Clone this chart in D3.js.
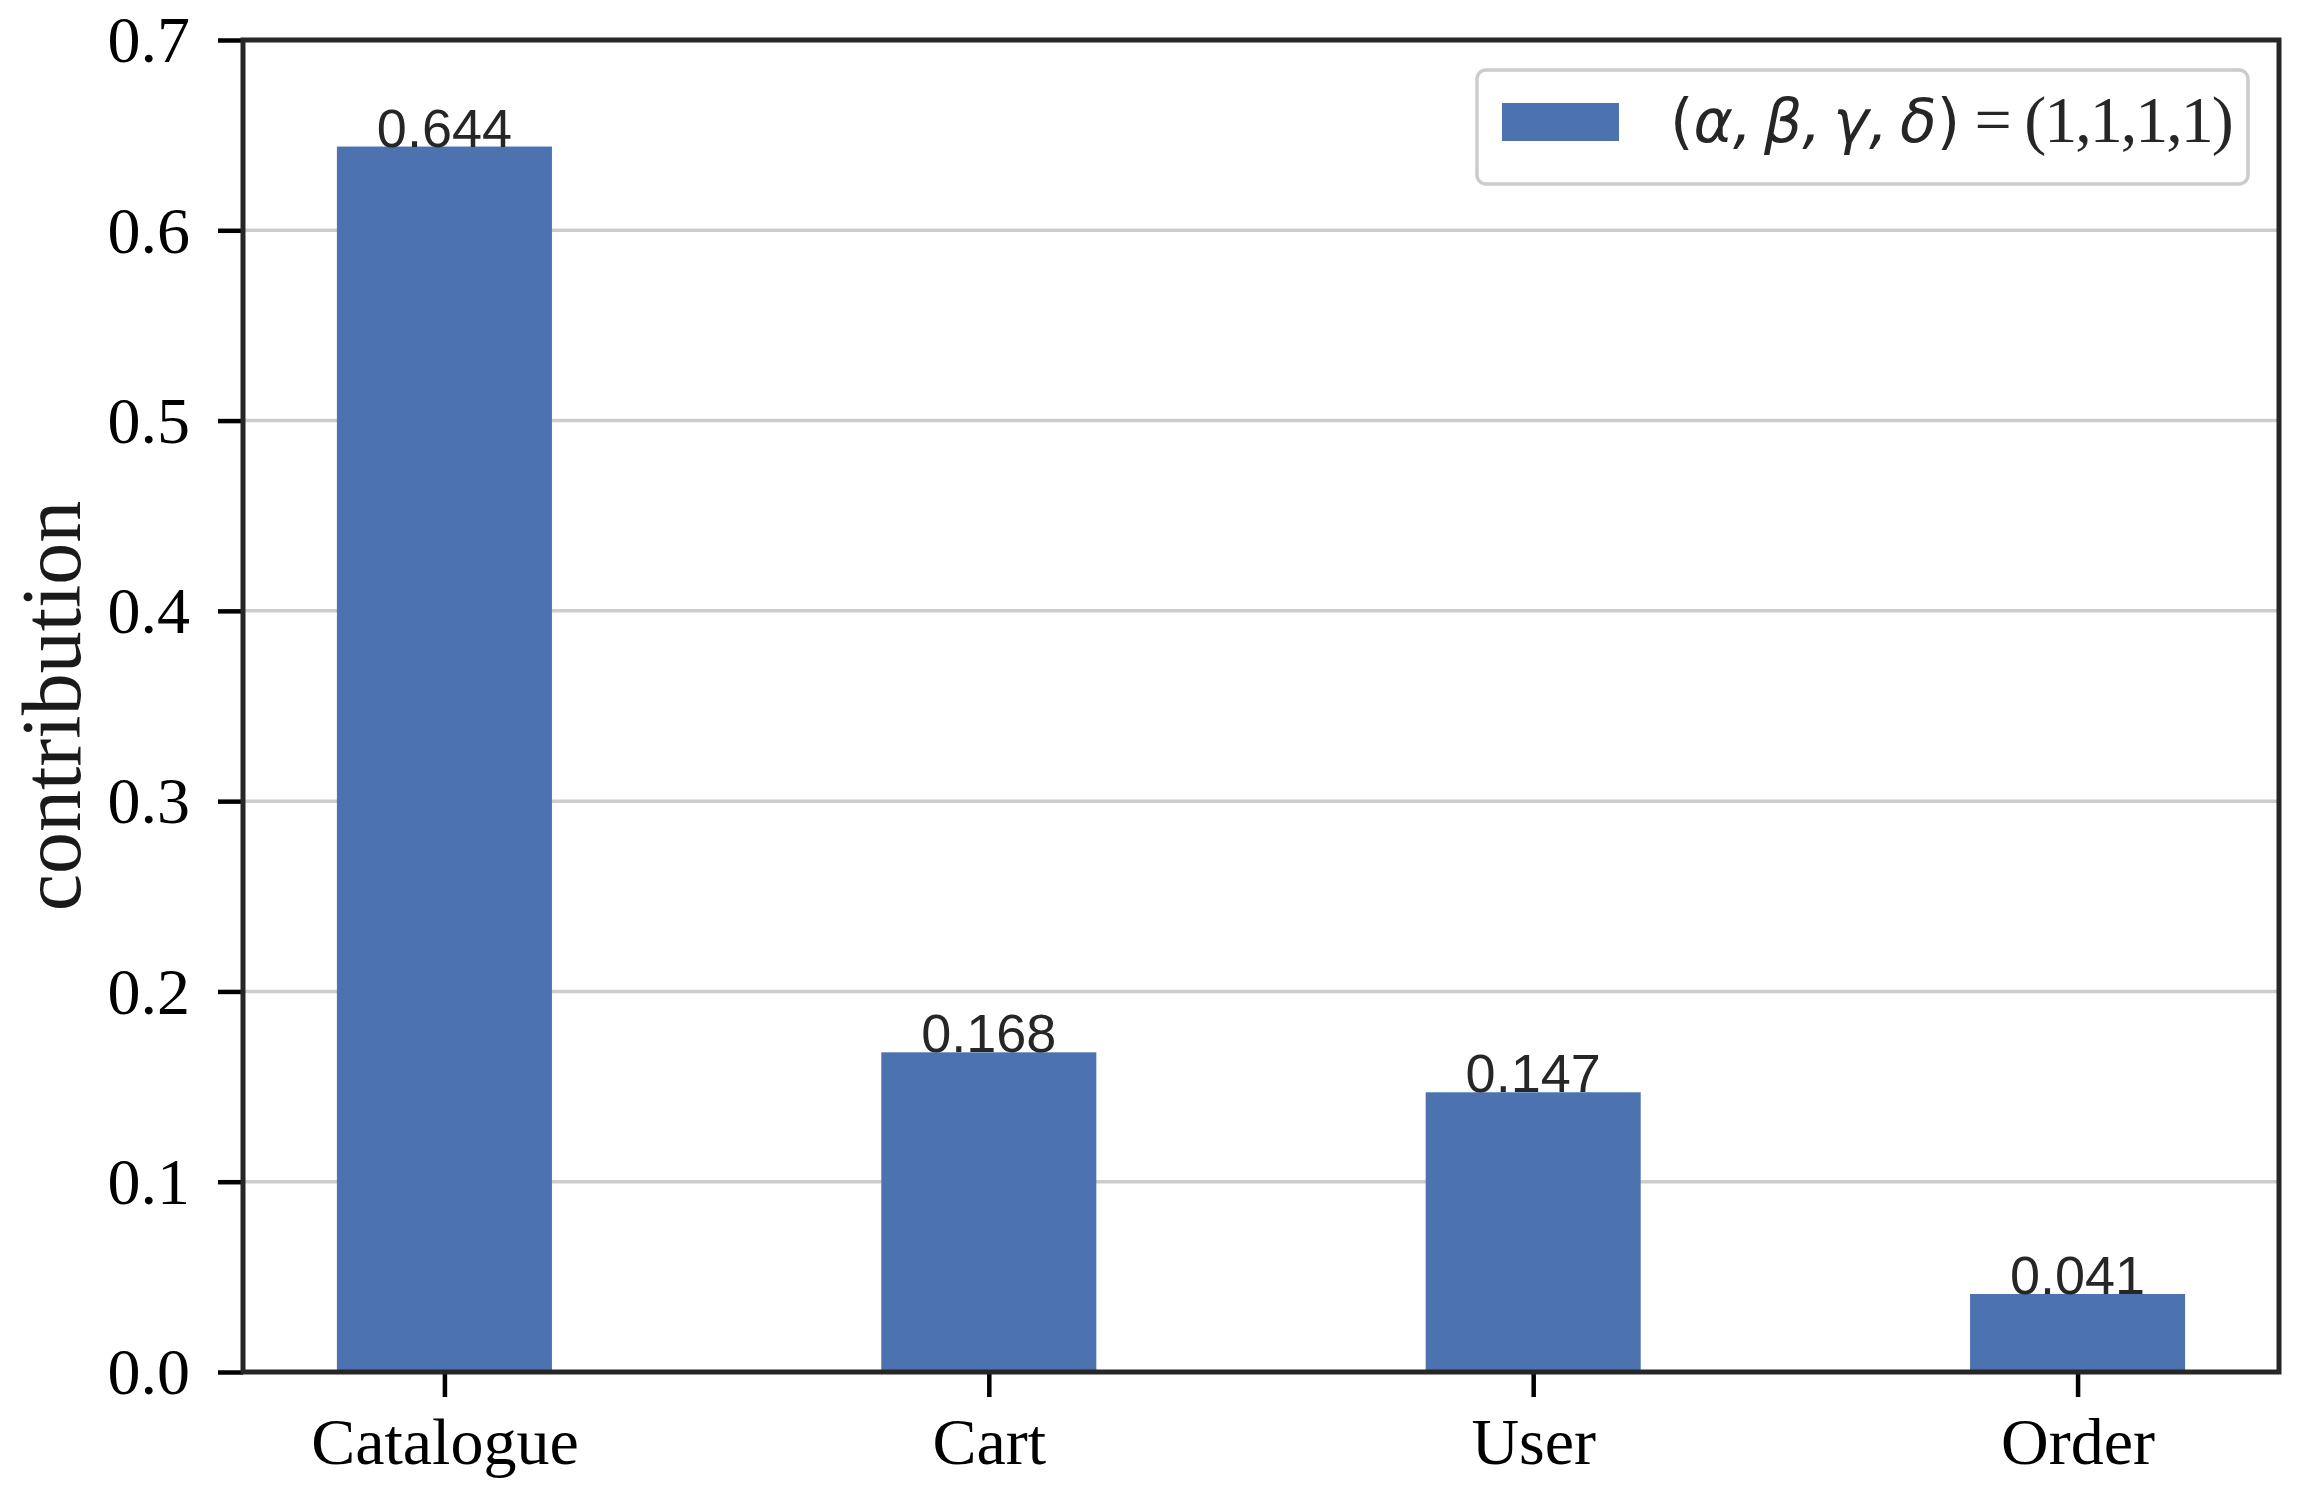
<!DOCTYPE html>
<html>
<head>
<meta charset="utf-8">
<script src="https://cdn.jsdelivr.net/npm/d3@7.9.0/dist/d3.min.js"></script>
<style>
  body { margin: 0; background: #fff; }
  svg { display: block; }
</style>
</head>
<body>
<svg id="chart" width="2298" height="1488"></svg>
<script>
// Chart data
const categories = ["Catalogue", "Cart", "User", "Order"];
const contributions = [0.644, 0.168, 0.147, 0.041];
const yTickValues = [0.0, 0.1, 0.2, 0.3, 0.4, 0.5, 0.6, 0.7];
const legendGreek = ["α", "β", "γ", "δ"];
const legendValues = "(1,1,1,1)";

// Plot area
const plotLeft = 243, plotRight = 2279, plotTop = 40, plotBottom = 1372;
const barColor = "#4c72b0";
const serif = "'Liberation Serif', 'Times New Roman', serif";
const sans = "'Liberation Sans', Arial, sans-serif";

const svg = d3.select("#chart");

// Scales (matplotlib style: bars at 0..n-1, width 0.4, 5% margins)
let x = d3.scaleLinear().domain([-0.37, categories.length - 1 + 0.37]).range([plotLeft, plotRight]);
let y = d3.scaleLinear().domain([0, 0.7]).range([plotBottom, plotTop]);
const barWidth = 0.395;

// Horizontal grid lines
svg.append("g")
   .selectAll("line")
   .data(yTickValues.slice(1, -1))
   .join("line")
   .attr("x1", plotLeft).attr("x2", plotRight)
   .attr("y1", d => y(d)).attr("y2", d => y(d))
   .attr("stroke", "#cccccc")
   .attr("stroke-width", 3.5);

// Bars
svg.append("g")
   .selectAll("rect")
   .data(contributions)
   .join("rect")
   .attr("x", (d, i) => x(i - barWidth / 2))
   .attr("width", x(barWidth) - x(0))
   .attr("y", d => y(d))
   .attr("height", d => y(0) - y(d))
   .attr("fill", barColor);

// Value labels above bars
svg.append("g")
   .selectAll("text")
   .data(contributions)
   .join("text")
   .attr("x", (d, i) => x(i))
   .attr("y", d => y(d))
   .attr("text-anchor", "middle")
   .attr("font-family", sans)
   .attr("font-size", 54)
   .attr("fill", "#262626")
   .text(d => d.toFixed(3));

// Y axis
let yAxis = d3.axisLeft(y)
    .tickValues(yTickValues)
    .tickFormat(d3.format(".1f"))
    .tickSize(25)
    .tickPadding(28);
let yg = svg.append("g").attr("transform", `translate(${plotLeft},0)`).call(yAxis);
yg.select(".domain").remove();
yg.selectAll(".tick line").attr("stroke", "#000").attr("stroke-width", 4.5);
yg.selectAll(".tick text")
  .attr("font-family", serif)
  .attr("font-size", 66)
  .attr("fill", "#000")
  .attr("dy", "0.33em");

// X axis
let xAxis = d3.axisBottom(x)
    .tickValues(d3.range(categories.length))
    .tickFormat(i => categories[i])
    .tickSize(25)
    .tickPadding(20);
let xg = svg.append("g").attr("transform", `translate(0,${plotBottom})`).call(xAxis);
xg.select(".domain").remove();
xg.selectAll(".tick line").attr("stroke", "#000").attr("stroke-width", 4.5);
xg.selectAll(".tick text")
  .attr("font-family", serif)
  .attr("font-size", 66)
  .attr("fill", "#000")
  .attr("dy", "0.71em");

// Frame (spines)
svg.append("rect")
   .attr("x", plotLeft).attr("y", plotTop)
   .attr("width", plotRight - plotLeft).attr("height", plotBottom - plotTop)
   .attr("fill", "none")
   .attr("stroke", "#262626")
   .attr("stroke-width", 5);

// Y axis label
svg.append("text")
   .attr("transform", `translate(80,${(plotTop + plotBottom) / 2}) rotate(-90)`)
   .attr("text-anchor", "middle")
   .attr("font-family", serif)
   .attr("font-size", 84)
   .attr("fill", "#1a1a1a")
   .text("contribution");

// Legend
let legend = svg.append("g");
legend.append("rect")
      .attr("x", 1477).attr("y", 70)
      .attr("width", 771).attr("height", 114)
      .attr("rx", 9)
      .attr("fill", "#fff")
      .attr("stroke", "#cccccc")
      .attr("stroke-width", 3.5);
legend.append("rect")
      .attr("x", 1502).attr("y", 103)
      .attr("width", 117).attr("height", 38)
      .attr("fill", barColor);

// legend label: greek part in math style (upright parens, oblique letters), rest in serif
let lt = legend.append("text")
      .attr("x", 1670).attr("y", 142)
      .attr("fill", "#262626")
      .attr("font-family", "'DejaVu Sans'")
      .attr("font-size", 60);
lt.append("tspan").text("(");
lt.append("tspan")
  .attr("font-style", "oblique")
  .text(legendGreek.join(",\u2009"));
lt.append("tspan").text(")");
lt.append("tspan")
  .attr("font-family", serif)
  .attr("font-size", 66)
  .attr("letter-spacing", -2)
  .text(" = " + legendValues);
</script>
</body>
</html>
